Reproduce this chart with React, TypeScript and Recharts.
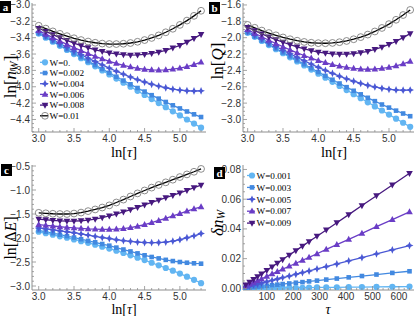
import React from 'react';
import { LineChart, Line, XAxis, YAxis } from 'recharts';

// ---------- data ----------
const LN_TAU = [3.0, 3.1, 3.2, 3.3, 3.4, 3.5, 3.6, 3.7, 3.8, 3.9, 4.0, 4.1, 4.2, 4.3, 4.4, 4.5, 4.6, 4.7, 4.8, 4.9, 5.0, 5.1, 5.2, 5.3];

const NAMES_ABC = ['W=0.', 'W=0.002', 'W=0.004', 'W=0.006', 'W=0.008', 'W=0.01'];
const NAMES_D = ['W=0.001', 'W=0.003', 'W=0.005', 'W=0.007', 'W=0.009'];

// panel a : ln[n_W]
const A_W0 = [-3.35, -3.40, -3.45, -3.50, -3.55, -3.60, -3.65, -3.70, -3.75, -3.80, -3.85, -3.90, -3.95, -4.00, -4.05, -4.10, -4.15, -4.20, -4.25, -4.30, -4.35, -4.40, -4.45, -4.50];
const A_W2 = [-3.346, -3.395, -3.444, -3.493, -3.542, -3.591, -3.639, -3.687, -3.735, -3.783, -3.830, -3.877, -3.924, -3.970, -4.015, -4.059, -4.103, -4.145, -4.186, -4.227, -4.265, -4.302, -4.337, -4.370];
const A_W4 = [-3.332, -3.379, -3.426, -3.472, -3.518, -3.563, -3.607, -3.650, -3.692, -3.733, -3.772, -3.810, -3.846, -3.881, -3.913, -3.942, -3.969, -3.992, -4.012, -4.029, -4.041, -4.049, -4.052, -4.050];
const A_W6 = [-3.312, -3.356, -3.399, -3.441, -3.481, -3.521, -3.559, -3.595, -3.628, -3.660, -3.689, -3.715, -3.739, -3.758, -3.774, -3.786, -3.793, -3.796, -3.793, -3.785, -3.772, -3.754, -3.729, -3.700];
const A_W8 = [-3.285, -3.324, -3.363, -3.399, -3.434, -3.466, -3.496, -3.523, -3.548, -3.568, -3.586, -3.599, -3.607, -3.612, -3.611, -3.605, -3.593, -3.577, -3.554, -3.526, -3.493, -3.454, -3.409, -3.360];
const A_W10 = [-3.254, -3.289, -3.323, -3.353, -3.381, -3.407, -3.429, -3.447, -3.462, -3.472, -3.477, -3.478, -3.474, -3.465, -3.450, -3.429, -3.403, -3.372, -3.334, -3.291, -3.244, -3.191, -3.133, -3.071];

// panel b : ln[Q]
const B_W0 = [-1.94, -1.99, -2.04, -2.09, -2.14, -2.19, -2.24, -2.29, -2.34, -2.39, -2.44, -2.49, -2.54, -2.59, -2.64, -2.69, -2.74, -2.79, -2.84, -2.89, -2.94, -2.99, -3.04, -3.09];
const B_W2 = [-1.936, -1.985, -2.034, -2.083, -2.132, -2.181, -2.229, -2.277, -2.325, -2.373, -2.420, -2.467, -2.514, -2.560, -2.605, -2.649, -2.693, -2.735, -2.776, -2.817, -2.855, -2.892, -2.927, -2.960];
const B_W4 = [-1.922, -1.969, -2.016, -2.062, -2.108, -2.153, -2.197, -2.240, -2.282, -2.323, -2.362, -2.400, -2.436, -2.471, -2.503, -2.532, -2.559, -2.582, -2.602, -2.619, -2.631, -2.639, -2.642, -2.640];
const B_W6 = [-1.902, -1.946, -1.989, -2.031, -2.071, -2.111, -2.149, -2.185, -2.218, -2.250, -2.279, -2.305, -2.329, -2.348, -2.364, -2.376, -2.383, -2.386, -2.383, -2.375, -2.362, -2.344, -2.319, -2.290];
const B_W8 = [-1.875, -1.914, -1.953, -1.989, -2.024, -2.056, -2.086, -2.113, -2.138, -2.158, -2.176, -2.189, -2.197, -2.202, -2.201, -2.195, -2.183, -2.167, -2.144, -2.116, -2.083, -2.044, -1.999, -1.950];
const B_W10 = [-1.844, -1.879, -1.913, -1.943, -1.971, -1.997, -2.019, -2.037, -2.052, -2.062, -2.067, -2.068, -2.064, -2.055, -2.040, -2.019, -1.993, -1.962, -1.924, -1.881, -1.834, -1.781, -1.723, -1.661];

// panel c : ln[ΔE]
const C_W0 = [-1.87, -1.90, -1.93, -1.965, -1.995, -2.03, -2.065, -2.10, -2.14, -2.18, -2.22, -2.265, -2.31, -2.36, -2.41, -2.46, -2.515, -2.57, -2.625, -2.68, -2.74, -2.805, -2.87, -2.94];
const C_W2 = [-1.84, -1.87, -1.90, -1.93, -1.96, -1.99, -2.025, -2.06, -2.09, -2.125, -2.16, -2.20, -2.24, -2.28, -2.32, -2.36, -2.395, -2.425, -2.455, -2.48, -2.50, -2.515, -2.527, -2.535];
const C_W4 = [-1.79, -1.81, -1.83, -1.85, -1.87, -1.89, -1.915, -1.94, -1.965, -1.99, -2.01, -2.035, -2.055, -2.07, -2.085, -2.093, -2.097, -2.095, -2.085, -2.065, -2.035, -1.995, -1.955, -1.907];
const C_W6 = [-1.72, -1.735, -1.75, -1.765, -1.78, -1.79, -1.80, -1.81, -1.815, -1.82, -1.82, -1.815, -1.805, -1.785, -1.755, -1.72, -1.68, -1.635, -1.59, -1.54, -1.49, -1.44, -1.395, -1.35];
const C_W8 = [-1.607, -1.62, -1.632, -1.641, -1.647, -1.648, -1.64, -1.628, -1.605, -1.575, -1.54, -1.50, -1.457, -1.41, -1.36, -1.31, -1.26, -1.21, -1.16, -1.11, -1.06, -1.006, -0.952, -0.897];
const C_W10 = [-1.475, -1.485, -1.495, -1.50, -1.50, -1.49, -1.47, -1.44, -1.405, -1.365, -1.32, -1.26, -1.20, -1.135, -1.07, -1.01, -0.95, -0.895, -0.84, -0.785, -0.73, -0.675, -0.62, -0.56];

// panel d : δn_W vs τ
const TAU_D = [20, 35, 50, 65, 80, 100, 120, 140, 160, 185, 210, 235, 260, 290, 325, 365, 410, 460, 515, 575, 640];
const D_W1 = [0.0000, 0.0001, 0.0001, 0.0001, 0.0002, 0.0002, 0.0002, 0.0003, 0.0003, 0.0004, 0.0004, 0.0004, 0.0005, 0.0006, 0.0006, 0.0007, 0.0008, 0.0009, 0.0010, 0.0011, 0.0012];
const D_W3 = [0.0004, 0.0006, 0.0009, 0.0012, 0.0014, 0.0018, 0.0022, 0.0025, 0.0029, 0.0033, 0.0038, 0.0042, 0.0047, 0.0052, 0.0059, 0.0066, 0.0074, 0.0083, 0.0093, 0.0104, 0.0115];
const D_W5 = [0.0009, 0.0016, 0.0023, 0.0029, 0.0036, 0.0045, 0.0054, 0.0063, 0.0072, 0.0083, 0.0095, 0.0106, 0.0117, 0.0131, 0.0146, 0.0164, 0.0185, 0.0207, 0.0232, 0.0259, 0.0288];
const D_W7 = [0.0016, 0.0028, 0.0040, 0.0052, 0.0064, 0.0081, 0.0097, 0.0113, 0.0129, 0.0149, 0.0169, 0.0189, 0.0209, 0.0233, 0.0262, 0.0294, 0.0330, 0.0370, 0.0415, 0.0463, 0.0515];
const D_W9 = [0.0024, 0.0042, 0.0061, 0.0079, 0.0097, 0.0121, 0.0145, 0.0169, 0.0194, 0.0224, 0.0254, 0.0284, 0.0315, 0.0351, 0.0393, 0.0442, 0.0496, 0.0557, 0.0623, 0.0696, 0.0774];

// tick labels (major)
const X_MAJOR_LN = [3.0, 3.5, 4.0, 4.5, 5.0];
const Y_MAJOR_A = [-4.4, -4.2, -4.0, -3.8, -3.6, -3.4, -3.2, -3.0];
const Y_MAJOR_B = [-3.0, -2.8, -2.6, -2.4, -2.2, -2.0, -1.8, -1.6];
const Y_MAJOR_C = [-3.0, -2.5, -2.0, -1.5, -1.0, -0.5];
const X_MAJOR_D = [100, 200, 300, 400, 500, 600];
const Y_MAJOR_D = [0.0, 0.02, 0.04, 0.06, 0.08];

// ---------- styling ----------
const COLORS = ['#62b5f2', '#4289e0', '#4a58d4', '#6a3dc6', '#47197f', '#000000'];
const SHAPES = ['circle', 'square', 'star', 'triUp', 'triDown', 'open'];
const FRAME = '#8e8e8e';
const TICK_TXT = '#333333';
const SANS = '"Liberation Sans", Arial, sans-serif';
const SERIF = '"Liberation Serif", "Times New Roman", serif';

const range = (a: number, b: number, s: number) => {
  const out: number[] = [];
  const n = Math.round((b - a) / s);
  for (let i = 0; i <= n; i++) out.push(+(a + i * s).toFixed(6));
  return out;
};

const minus = (s: string) => s.replace('-', '\u2212');
const fmt1 = (v: number) => minus(v.toFixed(1));
const fmt2 = (v: number) => minus(v.toFixed(2));
const fmt0 = (v: number) => String(Math.round(v));

function drawMarker(shape: string, color: string, cx: number, cy: number, key?: string) {
  if (cx == null || cy == null || isNaN(cx) || isNaN(cy)) return <g key={key} />;
  switch (shape) {
    case 'circle':
      return <circle key={key} cx={cx} cy={cy} r={3.1} fill={color} />;
    case 'square':
      return <rect key={key} x={cx - 2.3} y={cy - 2.3} width={4.6} height={4.6} fill={color} />;
    case 'star': {
      const r = 3.9, a = 1.2;
      return (
        <path key={key} fill={color}
          d={`M${cx},${cy - r}L${cx + a},${cy - a}L${cx + r},${cy}L${cx + a},${cy + a}L${cx},${cy + r}L${cx - a},${cy + a}L${cx - r},${cy}L${cx - a},${cy - a}Z`} />
      );
    }
    case 'triUp':
      return <path key={key} fill={color} d={`M${cx},${cy - 3.6}L${cx + 3.3},${cy + 2.4}L${cx - 3.3},${cy + 2.4}Z`} />;
    case 'triDown':
      return <path key={key} fill={color} d={`M${cx},${cy + 3.6}L${cx + 3.3},${cy - 2.4}L${cx - 3.3},${cy - 2.4}Z`} />;
    default:
      return <circle key={key} cx={cx} cy={cy} r={3.4} fill="none" stroke="#707070" strokeWidth={0.8} />;
  }
}

type Side = 'bottom' | 'left' | 'top' | 'right';
const makeTick = (side: Side, majors: number[], fmt: (v: number) => string, labelOff = 10) => (props: any) => {
  const { x, y, payload } = props;
  const v = payload.value;
  const major = majors.some((m) => Math.abs(m - v) < 1e-6);
  const len = major ? 4 : 2;
  let line: any = null;
  let label: any = null;
  if (side === 'bottom') {
    line = <line x1={x} y1={y} x2={x} y2={y - len} stroke={FRAME} strokeWidth={0.8} />;
    if (major) label = <text x={x} y={y + labelOff} textAnchor="middle" fontSize={10} fontFamily={SANS} fill={TICK_TXT}>{fmt(v)}</text>;
  } else if (side === 'top') {
    line = <line x1={x} y1={y} x2={x} y2={y + len} stroke={FRAME} strokeWidth={0.8} />;
  } else if (side === 'left') {
    line = <line x1={x} y1={y} x2={x + len} y2={y} stroke={FRAME} strokeWidth={0.8} />;
    if (major) label = <text x={x - 2} y={y + 3.5} textAnchor="end" fontSize={10} fontFamily={SANS} fill={TICK_TXT}>{fmt(v)}</text>;
  } else {
    line = <line x1={x} y1={y} x2={x - len} y2={y} stroke={FRAME} strokeWidth={0.8} />;
  }
  return <g>{line}{label}</g>;
};

type SeriesDef = { name: string; values: number[]; color: string; lineColor: string; shape: string };

type PanelProps = {
  left: number; top: number; width: number; height: number;
  margin: { top: number; right: number; bottom: number; left: number };
  yW: number; xH: number;
  xs: number[]; series: SeriesDef[];
  xDomain: [number, number]; yDomain: [number, number];
  xTicks: number[]; xMajor: number[]; xFmt: (v: number) => string;
  yTicks: number[]; yMajor: number[]; yFmt: (v: number) => string;
  xLabelOff: number;
};

function Panel(p: PanelProps) {
  const rows = p.xs.map((x, i) => {
    const r: any = { x };
    p.series.forEach((s, j) => { r['s' + j] = s.values[i]; });
    return r;
  });
  return (
    <div style={{ position: 'absolute', left: p.left, top: p.top }}>
      <LineChart width={p.width} height={p.height} data={rows} margin={p.margin}>
        <XAxis xAxisId="b" dataKey="x" type="number" domain={p.xDomain} allowDataOverflow
          ticks={p.xTicks} interval={0} tick={makeTick('bottom', p.xMajor, p.xFmt, p.xLabelOff)}
          tickLine={false} tickSize={0} tickMargin={0} axisLine={{ stroke: FRAME }} height={p.xH} />
        <XAxis xAxisId="t" orientation="top" dataKey="x" type="number" domain={p.xDomain} allowDataOverflow
          ticks={p.xTicks} interval={0} tick={makeTick('top', p.xMajor, p.xFmt)}
          tickLine={false} tickSize={0} tickMargin={0} axisLine={{ stroke: FRAME }} height={0} />
        <YAxis yAxisId="l" type="number" domain={p.yDomain} allowDataOverflow
          ticks={p.yTicks} interval={0} tick={makeTick('left', p.yMajor, p.yFmt)}
          tickLine={false} tickSize={0} tickMargin={0} axisLine={{ stroke: FRAME }} width={p.yW} />
        <YAxis yAxisId="r" orientation="right" type="number" domain={p.yDomain} allowDataOverflow
          ticks={p.yTicks} interval={0} tick={makeTick('right', p.yMajor, p.yFmt)}
          tickLine={false} tickSize={0} tickMargin={0} axisLine={{ stroke: FRAME }} width={0} />
        {p.series.map((s, j) => (
          <Line key={j} xAxisId="b" yAxisId="l" dataKey={'s' + j} type="linear"
            stroke={s.lineColor} strokeWidth={1.3} isAnimationActive={false} activeDot={false}
            dot={(dp: any) => drawMarker(s.shape, s.color, dp.cx, dp.cy, `d${j}-${dp.index}`)} />
        ))}
      </LineChart>
    </div>
  );
}

const mkSeries = (names: string[], arrs: number[][]): SeriesDef[] =>
  arrs.map((values, i) => ({
    name: names[i], values, color: COLORS[i], lineColor: i === 5 ? '#000000' : COLORS[i], shape: SHAPES[i],
  }));

const SERIES_A = mkSeries(NAMES_ABC, [A_W0, A_W2, A_W4, A_W6, A_W8, A_W10]);
const SERIES_B = mkSeries(NAMES_ABC, [B_W0, B_W2, B_W4, B_W6, B_W8, B_W10]);
const SERIES_C = mkSeries(NAMES_ABC, [C_W0, C_W2, C_W4, C_W6, C_W8, C_W10]);
const SERIES_D = mkSeries(NAMES_D, [D_W1, D_W3, D_W5, D_W7, D_W9]);

const X_TICKS_LN = range(3.0, 5.3, 0.1);

function Legend({ series, x, y0, dy }: { series: SeriesDef[]; x: number; y0: number; dy: number }) {
  return (
    <g>
      {series.map((s, i) => {
        const y = y0 + i * dy;
        return (
          <g key={i}>
            <line x1={x - 5} y1={y} x2={x + 3} y2={y} stroke={s.lineColor} strokeWidth={1.3} />
            {drawMarker(s.shape, s.color, x, y)}
            <text x={x + 4.5} y={y + 3.2} fontSize={9.2} fontFamily={SERIF} fill="#000">{s.name}</text>
          </g>
        );
      })}
    </g>
  );
}

function PanelTag({ x, y, t }: { x: number; y: number; t: string }) {
  return (
    <g>
      <rect x={x} y={y} width={11} height={12} fill="#000" />
      <text x={x + 5.5} y={y + 9.5} textAnchor="middle" fontSize={11} fontWeight="bold" fontFamily={SERIF} fill="#fff">{t}</text>
    </g>
  );
}

export default function App() {
  return (
    <div style={{ position: 'absolute', left: 0, top: 0, width: 415, height: 316, background: '#fff', overflow: 'hidden' }}>
      <Panel left={0} top={0} width={210} height={150} margin={{ top: 3, right: 4, bottom: 0, left: 0 }}
        yW={32} xH={18} xs={LN_TAU} series={SERIES_A}
        xDomain={[2.905, 5.37]} yDomain={[-4.553, -2.976]}
        xTicks={X_TICKS_LN} xMajor={X_MAJOR_LN} xFmt={fmt1}
        yTicks={range(-4.55, -3.0, 0.05)} yMajor={Y_MAJOR_A} yFmt={fmt1} xLabelOff={10} />
      <Panel left={210} top={0} width={205} height={150} margin={{ top: 3, right: 1, bottom: 0, left: 0 }}
        yW={33} xH={18} xs={LN_TAU} series={SERIES_B}
        xDomain={[2.934, 5.354]} yDomain={[-3.153, -1.576]}
        xTicks={X_TICKS_LN} xMajor={X_MAJOR_LN} xFmt={fmt1}
        yTicks={range(-3.15, -1.6, 0.05)} yMajor={Y_MAJOR_B} yFmt={fmt1} xLabelOff={10} />
      <Panel left={0} top={150} width={210} height={166} margin={{ top: 15, right: 4, bottom: 0, left: 0 }}
        yW={32} xH={26} xs={LN_TAU} series={SERIES_C}
        xDomain={[2.905, 5.37]} yDomain={[-3.083, -0.479]}
        xTicks={X_TICKS_LN} xMajor={X_MAJOR_LN} xFmt={fmt1}
        yTicks={range(-3.0, -0.5, 0.1)} yMajor={Y_MAJOR_C} yFmt={fmt1} xLabelOff={9.5} />
      <Panel left={210} top={150} width={205} height={166} margin={{ top: 15, right: 1, bottom: 0, left: 0 }}
        yW={33} xH={26} xs={TAU_D} series={SERIES_D}
        xDomain={[10, 657]} yDomain={[-0.0011, 0.083]}
        xTicks={range(20, 640, 20)} xMajor={X_MAJOR_D} xFmt={fmt0}
        yTicks={range(0, 0.08, 0.005)} yMajor={Y_MAJOR_D} yFmt={fmt2} xLabelOff={9.5} />

      <svg width={415} height={316} style={{ position: 'absolute', left: 0, top: 0, pointerEvents: 'none' }}>
        <Legend series={SERIES_A} x={45} y0={62.3} dy={10.7} />
        <Legend series={SERIES_D} x={252} y0={175.5} dy={11.9} />

        <PanelTag x={0} y={1} t="a" />
        <PanelTag x={209} y={2} t="b" />
        <PanelTag x={1} y={164} t="c" />
        <PanelTag x={214} y={167} t="d" />

        {/* x-axis titles */}
        <text x={124} y={152} textAnchor="middle" dominantBaseline="central" fontSize={14.5} fontFamily={SERIF}>
          ln[<tspan fontStyle="italic">τ</tspan>]
        </text>
        <text x={334} y={152} textAnchor="middle" dominantBaseline="central" fontSize={14.5} fontFamily={SERIF}>
          ln[<tspan fontStyle="italic">τ</tspan>]
        </text>
        <text x={124} y={309} textAnchor="middle" dominantBaseline="central" fontSize={14} fontFamily={SERIF}>
          ln[<tspan fontStyle="italic">τ</tspan>]
        </text>
        <text x={328} y={309} textAnchor="middle" dominantBaseline="central" fontSize={14} fontFamily={SERIF} fontStyle="italic">τ</text>

        {/* y-axis titles */}
        <text transform="translate(10,77) rotate(-90)" textAnchor="middle" dominantBaseline="central" fontSize={17} fontFamily={SERIF}>
          ln[<tspan fontStyle="italic">n</tspan><tspan fontStyle="italic" fontSize={11.5} dy={4}>W</tspan><tspan dy={-4}>]</tspan>
        </text>
        <text transform="translate(217,61) rotate(-90)" textAnchor="middle" dominantBaseline="central" fontSize={17} fontFamily={SERIF}>
          ln[<tspan fontStyle="italic">Q</tspan>]
        </text>
        <text transform="translate(10,238) rotate(-90)" textAnchor="middle" dominantBaseline="central" fontSize={16} fontFamily={SERIF}>
          ln[Δ<tspan fontStyle="italic">E</tspan>]
        </text>
        <text transform="translate(217,223) rotate(-90)" textAnchor="middle" dominantBaseline="central" fontSize={17} fontFamily={SERIF}>
          <tspan fontStyle="italic">δn</tspan><tspan fontStyle="italic" fontSize={11.5} dy={4}>W</tspan>
        </text>
      </svg>
    </div>
  );
}
